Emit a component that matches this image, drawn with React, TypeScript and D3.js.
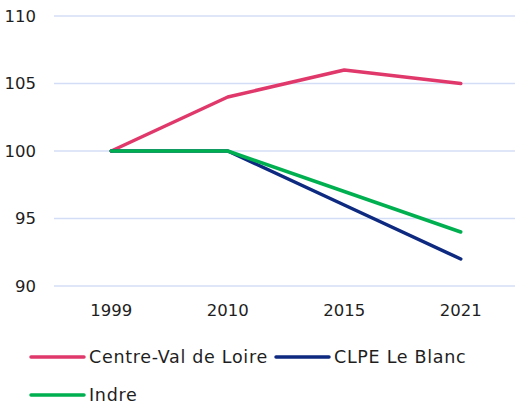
import React from "react";
import * as d3 from "d3";

const years = ["1999", "2010", "2015", "2021"];
const seriesNames = ["Centre-Val de Loire", "CLPE Le Blanc", "Indre"];
const centreVal = [100, 104, 106, 105];
const clpeLeBlanc = [100, 100, 96, 92];
const indre = [100, 100, 97, 94];
const yTicks = [90, 95, 100, 105, 110];
const colors = ["#E0386B", "#0E2A80", "#00B050"];

const W = 515;
const H = 409;
const FONT = "'DejaVu Sans', sans-serif";

const App: React.FC = () => {
  const x = d3.scalePoint<string>().domain(years).range([53, 519]).padding(0.5);
  const y = d3.scaleLinear().domain([90, 110]).range([286, 16]);
  const line = d3
    .line<number>()
    .x((_, i) => x(years[i]) as number)
    .y((d) => y(d));

  const allSeries = [centreVal, clpeLeBlanc, indre];

  // legend layout: two per row
  const legendPos = [
    { lx: 30, ly: 357 },
    { lx: 275, ly: 357 },
    { lx: 30, ly: 395 },
  ];

  return (
    <svg
      width={W}
      height={H}
      style={{ position: "absolute", left: 0, top: 0, fontFamily: FONT }}
    >
      <rect width={W} height={H} fill="#fff" />
      {yTicks.map((t) => (
        <g key={t}>
          <line x1={54} x2={W} y1={y(t)} y2={y(t)} stroke="#D3DEF6" strokeWidth={1.5} />
          <text
            x={36}
            y={y(t)}
            textAnchor="end"
            dominantBaseline="central"
            fontSize={16.5}
            fill="#1e1e1e"
          >
            {t}
          </text>
        </g>
      ))}
      {years.map((yr) => (
        <text
          key={yr}
          x={x(yr)}
          y={310}
          textAnchor="middle"
          dominantBaseline="central"
          fontSize={16.5}
          fill="#1e1e1e"
        >
          {yr}
        </text>
      ))}
      {allSeries.map((s, i) => (
        <path
          key={seriesNames[i]}
          d={line(s) || ""}
          fill="none"
          stroke={colors[i]}
          strokeWidth={3.5}
          strokeLinejoin="round"
          strokeLinecap="round"
        />
      ))}
      {seriesNames.map((n, i) => (
        <g key={n}>
          <line
            x1={legendPos[i].lx + 1}
            x2={legendPos[i].lx + 54}
            y1={legendPos[i].ly}
            y2={legendPos[i].ly}
            stroke={colors[i]}
            strokeWidth={3.5}
            strokeLinecap="round"
          />
          <text
            x={legendPos[i].lx + 59}
            y={legendPos[i].ly}
            dominantBaseline="central"
            fontSize={17.5}
            letterSpacing={0.7}
            fill="#1e1e1e"
          >
            {n}
          </text>
        </g>
      ))}
    </svg>
  );
};

export default App;
